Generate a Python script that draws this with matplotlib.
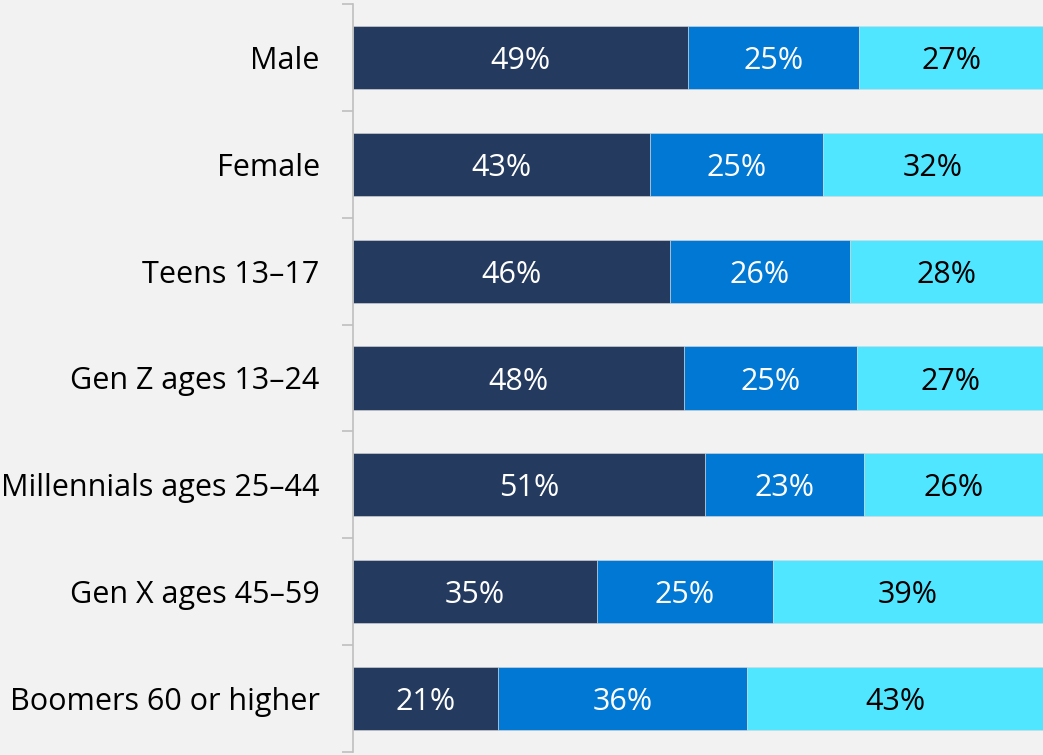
import matplotlib
matplotlib.use('Agg')
import matplotlib.pyplot as plt
import numpy as np

labels = ['Male', 'Female', 'Teens 13–17', 'Gen Z ages 13–24',
          'Millennials ages 25–44', 'Gen X ages 45–59', 'Boomers 60 or higher']
# shares (%)
seg1 = np.array([48.6, 43.0, 45.9, 48.0, 51.0, 35.4, 21.0])
seg2 = np.array([24.8, 25.1, 26.1, 25.1, 23.0, 25.4, 36.1])
seg3 = np.array([26.6, 31.9, 28.0, 26.9, 26.0, 39.2, 42.9])

colors = ['#243A5E', '#0078D4', '#50E6FF']
text_colors = ['white', 'white', 'black']
bg = '#F2F2F2'

plt.rcParams['font.family'] = ['Open Sans', 'DejaVu Sans']

fig = plt.figure(figsize=(10.43, 7.55), dpi=100, facecolor=bg)
ax = fig.add_axes([353/1043, 3/755, 1 - 353/1043, 748/755])
ax.set_facecolor(bg)

pos = np.arange(len(labels))
left = np.zeros(len(labels))
for vals, c, tc in zip([seg1, seg2, seg3], colors, text_colors):
    bars = ax.barh(pos, vals, 0.59, left=left, color=c, edgecolor='#D9D9D9', linewidth=0.4)
    txts = ax.bar_label(bars, labels=['%.0f%%' % v for v in vals], label_type='center',
                        color=tc, fontsize=22)
    for t in txts:
        t.set_va('center_baseline')
    left = left + vals

ax.set_xlim(0, 100)
ax.set_ylim(len(labels) - 0.5, -0.5)
ax.set_yticks(pos)
ax.set_yticklabels(labels, fontsize=22)
ax.set_yticks(np.arange(len(labels) + 1) - 0.5, minor=True)
ax.tick_params(axis='y', which='major', length=0, pad=24)
ax.tick_params(axis='y', which='minor', length=8, color='#BFBFBF', width=1.2)
ax.set_xticks([])
for s in ['top', 'right', 'bottom']:
    ax.spines[s].set_visible(False)
ax.spines['left'].set_color('#BFBFBF')
ax.spines['left'].set_linewidth(1.2)

fig.savefig('out.png', dpi=100, facecolor=bg)
